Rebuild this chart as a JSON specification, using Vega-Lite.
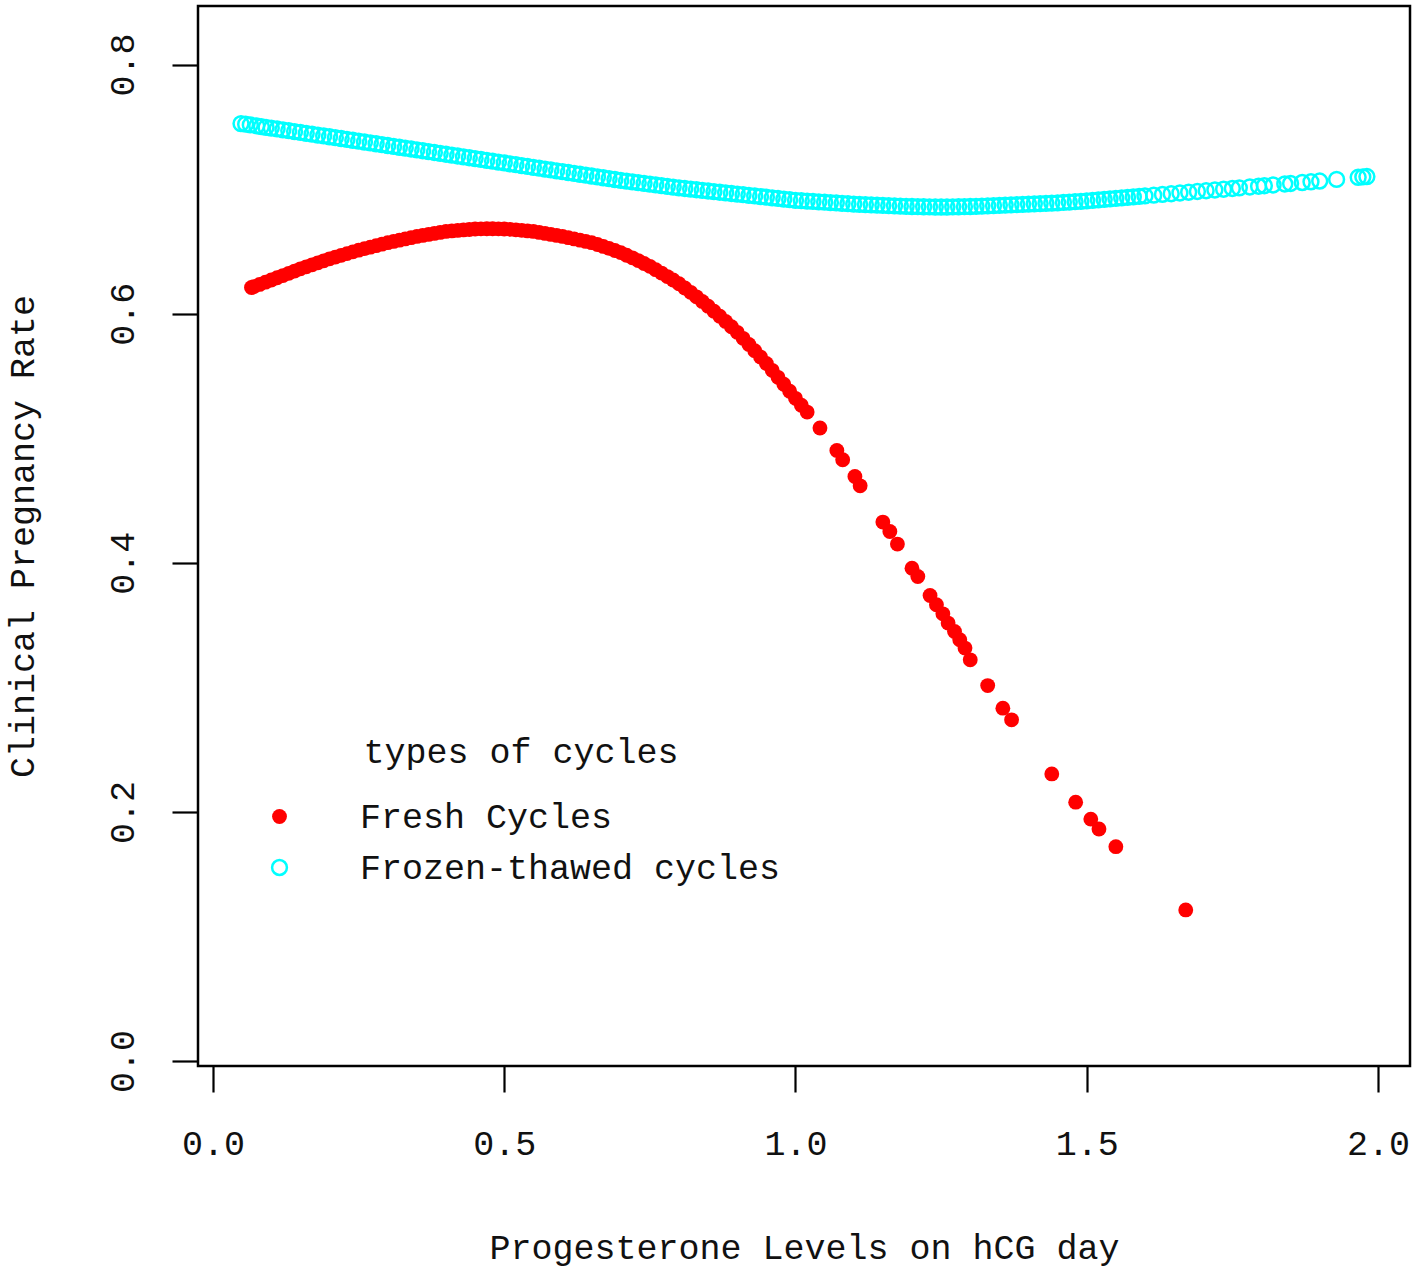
{
  "$schema": "https://vega.github.io/schema/vega-lite/v6.json",
  "background": "white",
  "autosize": {"type": "none"},
  "padding": {"left": 198, "top": 6, "right": 7, "bottom": 204},
  "width": 1212,
  "height": 1060,
  "data": {
    "values": [
      {"x": 0.066, "y": 0.6210, "cycle": "Fresh Cycles"},
      {"x": 0.07, "y": 0.6217, "cycle": "Fresh Cycles"},
      {"x": 0.08, "y": 0.6235, "cycle": "Fresh Cycles"},
      {"x": 0.09, "y": 0.6253, "cycle": "Fresh Cycles"},
      {"x": 0.10, "y": 0.6270, "cycle": "Fresh Cycles"},
      {"x": 0.11, "y": 0.6288, "cycle": "Fresh Cycles"},
      {"x": 0.12, "y": 0.6306, "cycle": "Fresh Cycles"},
      {"x": 0.13, "y": 0.6324, "cycle": "Fresh Cycles"},
      {"x": 0.14, "y": 0.6342, "cycle": "Fresh Cycles"},
      {"x": 0.15, "y": 0.6360, "cycle": "Fresh Cycles"},
      {"x": 0.16, "y": 0.6376, "cycle": "Fresh Cycles"},
      {"x": 0.17, "y": 0.6392, "cycle": "Fresh Cycles"},
      {"x": 0.18, "y": 0.6408, "cycle": "Fresh Cycles"},
      {"x": 0.19, "y": 0.6424, "cycle": "Fresh Cycles"},
      {"x": 0.20, "y": 0.6440, "cycle": "Fresh Cycles"},
      {"x": 0.21, "y": 0.6454, "cycle": "Fresh Cycles"},
      {"x": 0.22, "y": 0.6468, "cycle": "Fresh Cycles"},
      {"x": 0.23, "y": 0.6482, "cycle": "Fresh Cycles"},
      {"x": 0.24, "y": 0.6496, "cycle": "Fresh Cycles"},
      {"x": 0.25, "y": 0.6510, "cycle": "Fresh Cycles"},
      {"x": 0.26, "y": 0.6522, "cycle": "Fresh Cycles"},
      {"x": 0.27, "y": 0.6534, "cycle": "Fresh Cycles"},
      {"x": 0.28, "y": 0.6546, "cycle": "Fresh Cycles"},
      {"x": 0.29, "y": 0.6558, "cycle": "Fresh Cycles"},
      {"x": 0.30, "y": 0.6570, "cycle": "Fresh Cycles"},
      {"x": 0.31, "y": 0.6580, "cycle": "Fresh Cycles"},
      {"x": 0.32, "y": 0.6590, "cycle": "Fresh Cycles"},
      {"x": 0.33, "y": 0.6600, "cycle": "Fresh Cycles"},
      {"x": 0.34, "y": 0.6610, "cycle": "Fresh Cycles"},
      {"x": 0.35, "y": 0.6620, "cycle": "Fresh Cycles"},
      {"x": 0.36, "y": 0.6628, "cycle": "Fresh Cycles"},
      {"x": 0.37, "y": 0.6636, "cycle": "Fresh Cycles"},
      {"x": 0.38, "y": 0.6644, "cycle": "Fresh Cycles"},
      {"x": 0.39, "y": 0.6652, "cycle": "Fresh Cycles"},
      {"x": 0.40, "y": 0.6660, "cycle": "Fresh Cycles"},
      {"x": 0.41, "y": 0.6664, "cycle": "Fresh Cycles"},
      {"x": 0.42, "y": 0.6668, "cycle": "Fresh Cycles"},
      {"x": 0.43, "y": 0.6672, "cycle": "Fresh Cycles"},
      {"x": 0.44, "y": 0.6676, "cycle": "Fresh Cycles"},
      {"x": 0.45, "y": 0.6680, "cycle": "Fresh Cycles"},
      {"x": 0.46, "y": 0.6681, "cycle": "Fresh Cycles"},
      {"x": 0.47, "y": 0.6682, "cycle": "Fresh Cycles"},
      {"x": 0.48, "y": 0.6682, "cycle": "Fresh Cycles"},
      {"x": 0.49, "y": 0.6681, "cycle": "Fresh Cycles"},
      {"x": 0.50, "y": 0.6680, "cycle": "Fresh Cycles"},
      {"x": 0.51, "y": 0.6677, "cycle": "Fresh Cycles"},
      {"x": 0.52, "y": 0.6673, "cycle": "Fresh Cycles"},
      {"x": 0.53, "y": 0.6669, "cycle": "Fresh Cycles"},
      {"x": 0.54, "y": 0.6664, "cycle": "Fresh Cycles"},
      {"x": 0.55, "y": 0.6660, "cycle": "Fresh Cycles"},
      {"x": 0.56, "y": 0.6652, "cycle": "Fresh Cycles"},
      {"x": 0.57, "y": 0.6644, "cycle": "Fresh Cycles"},
      {"x": 0.58, "y": 0.6636, "cycle": "Fresh Cycles"},
      {"x": 0.59, "y": 0.6628, "cycle": "Fresh Cycles"},
      {"x": 0.60, "y": 0.6620, "cycle": "Fresh Cycles"},
      {"x": 0.61, "y": 0.6610, "cycle": "Fresh Cycles"},
      {"x": 0.62, "y": 0.6600, "cycle": "Fresh Cycles"},
      {"x": 0.63, "y": 0.6590, "cycle": "Fresh Cycles"},
      {"x": 0.64, "y": 0.6580, "cycle": "Fresh Cycles"},
      {"x": 0.65, "y": 0.6570, "cycle": "Fresh Cycles"},
      {"x": 0.66, "y": 0.6555, "cycle": "Fresh Cycles"},
      {"x": 0.67, "y": 0.6540, "cycle": "Fresh Cycles"},
      {"x": 0.68, "y": 0.6524, "cycle": "Fresh Cycles"},
      {"x": 0.69, "y": 0.6507, "cycle": "Fresh Cycles"},
      {"x": 0.70, "y": 0.6490, "cycle": "Fresh Cycles"},
      {"x": 0.71, "y": 0.6469, "cycle": "Fresh Cycles"},
      {"x": 0.72, "y": 0.6448, "cycle": "Fresh Cycles"},
      {"x": 0.73, "y": 0.6426, "cycle": "Fresh Cycles"},
      {"x": 0.74, "y": 0.6403, "cycle": "Fresh Cycles"},
      {"x": 0.75, "y": 0.6380, "cycle": "Fresh Cycles"},
      {"x": 0.76, "y": 0.6353, "cycle": "Fresh Cycles"},
      {"x": 0.77, "y": 0.6326, "cycle": "Fresh Cycles"},
      {"x": 0.78, "y": 0.6298, "cycle": "Fresh Cycles"},
      {"x": 0.79, "y": 0.6270, "cycle": "Fresh Cycles"},
      {"x": 0.80, "y": 0.6240, "cycle": "Fresh Cycles"},
      {"x": 0.81, "y": 0.6206, "cycle": "Fresh Cycles"},
      {"x": 0.82, "y": 0.6171, "cycle": "Fresh Cycles"},
      {"x": 0.83, "y": 0.6135, "cycle": "Fresh Cycles"},
      {"x": 0.84, "y": 0.6098, "cycle": "Fresh Cycles"},
      {"x": 0.85, "y": 0.6060, "cycle": "Fresh Cycles"},
      {"x": 0.86, "y": 0.6020, "cycle": "Fresh Cycles"},
      {"x": 0.87, "y": 0.5980, "cycle": "Fresh Cycles"},
      {"x": 0.88, "y": 0.5938, "cycle": "Fresh Cycles"},
      {"x": 0.89, "y": 0.5895, "cycle": "Fresh Cycles"},
      {"x": 0.90, "y": 0.5850, "cycle": "Fresh Cycles"},
      {"x": 0.91, "y": 0.5802, "cycle": "Fresh Cycles"},
      {"x": 0.92, "y": 0.5753, "cycle": "Fresh Cycles"},
      {"x": 0.93, "y": 0.5703, "cycle": "Fresh Cycles"},
      {"x": 0.94, "y": 0.5652, "cycle": "Fresh Cycles"},
      {"x": 0.95, "y": 0.5600, "cycle": "Fresh Cycles"},
      {"x": 0.96, "y": 0.5545, "cycle": "Fresh Cycles"},
      {"x": 0.97, "y": 0.5489, "cycle": "Fresh Cycles"},
      {"x": 0.98, "y": 0.5433, "cycle": "Fresh Cycles"},
      {"x": 0.99, "y": 0.5377, "cycle": "Fresh Cycles"},
      {"x": 1.00, "y": 0.5320, "cycle": "Fresh Cycles"},
      {"x": 1.01, "y": 0.5265, "cycle": "Fresh Cycles"},
      {"x": 1.02, "y": 0.5210, "cycle": "Fresh Cycles"},
      {"x": 1.042, "y": 0.5082, "cycle": "Fresh Cycles"},
      {"x": 1.071, "y": 0.4902, "cycle": "Fresh Cycles"},
      {"x": 1.081, "y": 0.4827, "cycle": "Fresh Cycles"},
      {"x": 1.102, "y": 0.4693, "cycle": "Fresh Cycles"},
      {"x": 1.111, "y": 0.4618, "cycle": "Fresh Cycles"},
      {"x": 1.150, "y": 0.4327, "cycle": "Fresh Cycles"},
      {"x": 1.162, "y": 0.4251, "cycle": "Fresh Cycles"},
      {"x": 1.175, "y": 0.4150, "cycle": "Fresh Cycles"},
      {"x": 1.200, "y": 0.3957, "cycle": "Fresh Cycles"},
      {"x": 1.210, "y": 0.3890, "cycle": "Fresh Cycles"},
      {"x": 1.231, "y": 0.3737, "cycle": "Fresh Cycles"},
      {"x": 1.242, "y": 0.3663, "cycle": "Fresh Cycles"},
      {"x": 1.253, "y": 0.3590, "cycle": "Fresh Cycles"},
      {"x": 1.262, "y": 0.3516, "cycle": "Fresh Cycles"},
      {"x": 1.273, "y": 0.3448, "cycle": "Fresh Cycles"},
      {"x": 1.282, "y": 0.3382, "cycle": "Fresh Cycles"},
      {"x": 1.291, "y": 0.3315, "cycle": "Fresh Cycles"},
      {"x": 1.300, "y": 0.3221, "cycle": "Fresh Cycles"},
      {"x": 1.330, "y": 0.3014, "cycle": "Fresh Cycles"},
      {"x": 1.356, "y": 0.2833, "cycle": "Fresh Cycles"},
      {"x": 1.371, "y": 0.2739, "cycle": "Fresh Cycles"},
      {"x": 1.440, "y": 0.2305, "cycle": "Fresh Cycles"},
      {"x": 1.481, "y": 0.2078, "cycle": "Fresh Cycles"},
      {"x": 1.507, "y": 0.1942, "cycle": "Fresh Cycles"},
      {"x": 1.521, "y": 0.1863, "cycle": "Fresh Cycles"},
      {"x": 1.550, "y": 0.1721, "cycle": "Fresh Cycles"},
      {"x": 1.670, "y": 0.1213, "cycle": "Fresh Cycles"},
      {"x": 0.048, "y": 0.7526, "cycle": "Frozen-thawed cycles"},
      {"x": 0.056, "y": 0.7521, "cycle": "Frozen-thawed cycles"},
      {"x": 0.064, "y": 0.7515, "cycle": "Frozen-thawed cycles"},
      {"x": 0.075, "y": 0.7508, "cycle": "Frozen-thawed cycles"},
      {"x": 0.083, "y": 0.7502, "cycle": "Frozen-thawed cycles"},
      {"x": 0.091, "y": 0.7496, "cycle": "Frozen-thawed cycles"},
      {"x": 0.10, "y": 0.7490, "cycle": "Frozen-thawed cycles"},
      {"x": 0.11, "y": 0.7483, "cycle": "Frozen-thawed cycles"},
      {"x": 0.12, "y": 0.7476, "cycle": "Frozen-thawed cycles"},
      {"x": 0.13, "y": 0.7469, "cycle": "Frozen-thawed cycles"},
      {"x": 0.14, "y": 0.7462, "cycle": "Frozen-thawed cycles"},
      {"x": 0.15, "y": 0.7455, "cycle": "Frozen-thawed cycles"},
      {"x": 0.16, "y": 0.7448, "cycle": "Frozen-thawed cycles"},
      {"x": 0.17, "y": 0.7441, "cycle": "Frozen-thawed cycles"},
      {"x": 0.18, "y": 0.7434, "cycle": "Frozen-thawed cycles"},
      {"x": 0.19, "y": 0.7427, "cycle": "Frozen-thawed cycles"},
      {"x": 0.20, "y": 0.7420, "cycle": "Frozen-thawed cycles"},
      {"x": 0.21, "y": 0.7413, "cycle": "Frozen-thawed cycles"},
      {"x": 0.22, "y": 0.7406, "cycle": "Frozen-thawed cycles"},
      {"x": 0.23, "y": 0.7399, "cycle": "Frozen-thawed cycles"},
      {"x": 0.24, "y": 0.7392, "cycle": "Frozen-thawed cycles"},
      {"x": 0.25, "y": 0.7385, "cycle": "Frozen-thawed cycles"},
      {"x": 0.26, "y": 0.7378, "cycle": "Frozen-thawed cycles"},
      {"x": 0.27, "y": 0.7371, "cycle": "Frozen-thawed cycles"},
      {"x": 0.28, "y": 0.7364, "cycle": "Frozen-thawed cycles"},
      {"x": 0.29, "y": 0.7357, "cycle": "Frozen-thawed cycles"},
      {"x": 0.30, "y": 0.7350, "cycle": "Frozen-thawed cycles"},
      {"x": 0.31, "y": 0.7343, "cycle": "Frozen-thawed cycles"},
      {"x": 0.32, "y": 0.7336, "cycle": "Frozen-thawed cycles"},
      {"x": 0.33, "y": 0.7329, "cycle": "Frozen-thawed cycles"},
      {"x": 0.34, "y": 0.7322, "cycle": "Frozen-thawed cycles"},
      {"x": 0.35, "y": 0.7315, "cycle": "Frozen-thawed cycles"},
      {"x": 0.36, "y": 0.7308, "cycle": "Frozen-thawed cycles"},
      {"x": 0.37, "y": 0.7301, "cycle": "Frozen-thawed cycles"},
      {"x": 0.38, "y": 0.7294, "cycle": "Frozen-thawed cycles"},
      {"x": 0.39, "y": 0.7287, "cycle": "Frozen-thawed cycles"},
      {"x": 0.40, "y": 0.7280, "cycle": "Frozen-thawed cycles"},
      {"x": 0.41, "y": 0.7273, "cycle": "Frozen-thawed cycles"},
      {"x": 0.42, "y": 0.7266, "cycle": "Frozen-thawed cycles"},
      {"x": 0.43, "y": 0.7259, "cycle": "Frozen-thawed cycles"},
      {"x": 0.44, "y": 0.7252, "cycle": "Frozen-thawed cycles"},
      {"x": 0.45, "y": 0.7245, "cycle": "Frozen-thawed cycles"},
      {"x": 0.46, "y": 0.7238, "cycle": "Frozen-thawed cycles"},
      {"x": 0.47, "y": 0.7231, "cycle": "Frozen-thawed cycles"},
      {"x": 0.48, "y": 0.7224, "cycle": "Frozen-thawed cycles"},
      {"x": 0.49, "y": 0.7217, "cycle": "Frozen-thawed cycles"},
      {"x": 0.50, "y": 0.7210, "cycle": "Frozen-thawed cycles"},
      {"x": 0.51, "y": 0.7203, "cycle": "Frozen-thawed cycles"},
      {"x": 0.52, "y": 0.7196, "cycle": "Frozen-thawed cycles"},
      {"x": 0.53, "y": 0.7189, "cycle": "Frozen-thawed cycles"},
      {"x": 0.54, "y": 0.7182, "cycle": "Frozen-thawed cycles"},
      {"x": 0.55, "y": 0.7175, "cycle": "Frozen-thawed cycles"},
      {"x": 0.56, "y": 0.7168, "cycle": "Frozen-thawed cycles"},
      {"x": 0.57, "y": 0.7161, "cycle": "Frozen-thawed cycles"},
      {"x": 0.58, "y": 0.7154, "cycle": "Frozen-thawed cycles"},
      {"x": 0.59, "y": 0.7147, "cycle": "Frozen-thawed cycles"},
      {"x": 0.60, "y": 0.7140, "cycle": "Frozen-thawed cycles"},
      {"x": 0.61, "y": 0.7133, "cycle": "Frozen-thawed cycles"},
      {"x": 0.62, "y": 0.7126, "cycle": "Frozen-thawed cycles"},
      {"x": 0.63, "y": 0.7119, "cycle": "Frozen-thawed cycles"},
      {"x": 0.64, "y": 0.7112, "cycle": "Frozen-thawed cycles"},
      {"x": 0.65, "y": 0.7105, "cycle": "Frozen-thawed cycles"},
      {"x": 0.66, "y": 0.7098, "cycle": "Frozen-thawed cycles"},
      {"x": 0.67, "y": 0.7091, "cycle": "Frozen-thawed cycles"},
      {"x": 0.68, "y": 0.7084, "cycle": "Frozen-thawed cycles"},
      {"x": 0.69, "y": 0.7077, "cycle": "Frozen-thawed cycles"},
      {"x": 0.70, "y": 0.7070, "cycle": "Frozen-thawed cycles"},
      {"x": 0.71, "y": 0.7064, "cycle": "Frozen-thawed cycles"},
      {"x": 0.72, "y": 0.7058, "cycle": "Frozen-thawed cycles"},
      {"x": 0.73, "y": 0.7052, "cycle": "Frozen-thawed cycles"},
      {"x": 0.74, "y": 0.7046, "cycle": "Frozen-thawed cycles"},
      {"x": 0.75, "y": 0.7040, "cycle": "Frozen-thawed cycles"},
      {"x": 0.76, "y": 0.7034, "cycle": "Frozen-thawed cycles"},
      {"x": 0.77, "y": 0.7028, "cycle": "Frozen-thawed cycles"},
      {"x": 0.78, "y": 0.7022, "cycle": "Frozen-thawed cycles"},
      {"x": 0.79, "y": 0.7016, "cycle": "Frozen-thawed cycles"},
      {"x": 0.80, "y": 0.7010, "cycle": "Frozen-thawed cycles"},
      {"x": 0.81, "y": 0.7005, "cycle": "Frozen-thawed cycles"},
      {"x": 0.82, "y": 0.7000, "cycle": "Frozen-thawed cycles"},
      {"x": 0.83, "y": 0.6995, "cycle": "Frozen-thawed cycles"},
      {"x": 0.84, "y": 0.6990, "cycle": "Frozen-thawed cycles"},
      {"x": 0.85, "y": 0.6985, "cycle": "Frozen-thawed cycles"},
      {"x": 0.86, "y": 0.6980, "cycle": "Frozen-thawed cycles"},
      {"x": 0.87, "y": 0.6975, "cycle": "Frozen-thawed cycles"},
      {"x": 0.88, "y": 0.6970, "cycle": "Frozen-thawed cycles"},
      {"x": 0.89, "y": 0.6965, "cycle": "Frozen-thawed cycles"},
      {"x": 0.90, "y": 0.6960, "cycle": "Frozen-thawed cycles"},
      {"x": 0.91, "y": 0.6955, "cycle": "Frozen-thawed cycles"},
      {"x": 0.92, "y": 0.6950, "cycle": "Frozen-thawed cycles"},
      {"x": 0.93, "y": 0.6945, "cycle": "Frozen-thawed cycles"},
      {"x": 0.94, "y": 0.6940, "cycle": "Frozen-thawed cycles"},
      {"x": 0.95, "y": 0.6935, "cycle": "Frozen-thawed cycles"},
      {"x": 0.96, "y": 0.6930, "cycle": "Frozen-thawed cycles"},
      {"x": 0.97, "y": 0.6925, "cycle": "Frozen-thawed cycles"},
      {"x": 0.98, "y": 0.6920, "cycle": "Frozen-thawed cycles"},
      {"x": 0.99, "y": 0.6915, "cycle": "Frozen-thawed cycles"},
      {"x": 1.00, "y": 0.6910, "cycle": "Frozen-thawed cycles"},
      {"x": 1.01, "y": 0.6907, "cycle": "Frozen-thawed cycles"},
      {"x": 1.02, "y": 0.6904, "cycle": "Frozen-thawed cycles"},
      {"x": 1.03, "y": 0.6901, "cycle": "Frozen-thawed cycles"},
      {"x": 1.04, "y": 0.6898, "cycle": "Frozen-thawed cycles"},
      {"x": 1.05, "y": 0.6895, "cycle": "Frozen-thawed cycles"},
      {"x": 1.06, "y": 0.6892, "cycle": "Frozen-thawed cycles"},
      {"x": 1.07, "y": 0.6889, "cycle": "Frozen-thawed cycles"},
      {"x": 1.08, "y": 0.6886, "cycle": "Frozen-thawed cycles"},
      {"x": 1.09, "y": 0.6883, "cycle": "Frozen-thawed cycles"},
      {"x": 1.10, "y": 0.6880, "cycle": "Frozen-thawed cycles"},
      {"x": 1.11, "y": 0.6878, "cycle": "Frozen-thawed cycles"},
      {"x": 1.12, "y": 0.6876, "cycle": "Frozen-thawed cycles"},
      {"x": 1.13, "y": 0.6874, "cycle": "Frozen-thawed cycles"},
      {"x": 1.14, "y": 0.6872, "cycle": "Frozen-thawed cycles"},
      {"x": 1.15, "y": 0.6870, "cycle": "Frozen-thawed cycles"},
      {"x": 1.16, "y": 0.6868, "cycle": "Frozen-thawed cycles"},
      {"x": 1.17, "y": 0.6866, "cycle": "Frozen-thawed cycles"},
      {"x": 1.18, "y": 0.6864, "cycle": "Frozen-thawed cycles"},
      {"x": 1.19, "y": 0.6862, "cycle": "Frozen-thawed cycles"},
      {"x": 1.20, "y": 0.6860, "cycle": "Frozen-thawed cycles"},
      {"x": 1.21, "y": 0.6859, "cycle": "Frozen-thawed cycles"},
      {"x": 1.22, "y": 0.6858, "cycle": "Frozen-thawed cycles"},
      {"x": 1.23, "y": 0.6857, "cycle": "Frozen-thawed cycles"},
      {"x": 1.24, "y": 0.6856, "cycle": "Frozen-thawed cycles"},
      {"x": 1.25, "y": 0.6856, "cycle": "Frozen-thawed cycles"},
      {"x": 1.26, "y": 0.6856, "cycle": "Frozen-thawed cycles"},
      {"x": 1.27, "y": 0.6857, "cycle": "Frozen-thawed cycles"},
      {"x": 1.28, "y": 0.6858, "cycle": "Frozen-thawed cycles"},
      {"x": 1.29, "y": 0.6859, "cycle": "Frozen-thawed cycles"},
      {"x": 1.30, "y": 0.6860, "cycle": "Frozen-thawed cycles"},
      {"x": 1.31, "y": 0.6862, "cycle": "Frozen-thawed cycles"},
      {"x": 1.32, "y": 0.6864, "cycle": "Frozen-thawed cycles"},
      {"x": 1.33, "y": 0.6866, "cycle": "Frozen-thawed cycles"},
      {"x": 1.34, "y": 0.6868, "cycle": "Frozen-thawed cycles"},
      {"x": 1.35, "y": 0.6870, "cycle": "Frozen-thawed cycles"},
      {"x": 1.36, "y": 0.6872, "cycle": "Frozen-thawed cycles"},
      {"x": 1.37, "y": 0.6874, "cycle": "Frozen-thawed cycles"},
      {"x": 1.38, "y": 0.6876, "cycle": "Frozen-thawed cycles"},
      {"x": 1.39, "y": 0.6878, "cycle": "Frozen-thawed cycles"},
      {"x": 1.40, "y": 0.6880, "cycle": "Frozen-thawed cycles"},
      {"x": 1.41, "y": 0.6882, "cycle": "Frozen-thawed cycles"},
      {"x": 1.42, "y": 0.6884, "cycle": "Frozen-thawed cycles"},
      {"x": 1.43, "y": 0.6886, "cycle": "Frozen-thawed cycles"},
      {"x": 1.44, "y": 0.6888, "cycle": "Frozen-thawed cycles"},
      {"x": 1.45, "y": 0.6890, "cycle": "Frozen-thawed cycles"},
      {"x": 1.46, "y": 0.6893, "cycle": "Frozen-thawed cycles"},
      {"x": 1.47, "y": 0.6896, "cycle": "Frozen-thawed cycles"},
      {"x": 1.48, "y": 0.6899, "cycle": "Frozen-thawed cycles"},
      {"x": 1.49, "y": 0.6902, "cycle": "Frozen-thawed cycles"},
      {"x": 1.50, "y": 0.6905, "cycle": "Frozen-thawed cycles"},
      {"x": 1.51, "y": 0.6909, "cycle": "Frozen-thawed cycles"},
      {"x": 1.52, "y": 0.6913, "cycle": "Frozen-thawed cycles"},
      {"x": 1.53, "y": 0.6917, "cycle": "Frozen-thawed cycles"},
      {"x": 1.54, "y": 0.6921, "cycle": "Frozen-thawed cycles"},
      {"x": 1.55, "y": 0.6925, "cycle": "Frozen-thawed cycles"},
      {"x": 1.56, "y": 0.6929, "cycle": "Frozen-thawed cycles"},
      {"x": 1.57, "y": 0.6933, "cycle": "Frozen-thawed cycles"},
      {"x": 1.58, "y": 0.6937, "cycle": "Frozen-thawed cycles"},
      {"x": 1.59, "y": 0.6941, "cycle": "Frozen-thawed cycles"},
      {"x": 1.60, "y": 0.6945, "cycle": "Frozen-thawed cycles"},
      {"x": 1.615, "y": 0.6951, "cycle": "Frozen-thawed cycles"},
      {"x": 1.63, "y": 0.6957, "cycle": "Frozen-thawed cycles"},
      {"x": 1.645, "y": 0.6963, "cycle": "Frozen-thawed cycles"},
      {"x": 1.66, "y": 0.6969, "cycle": "Frozen-thawed cycles"},
      {"x": 1.675, "y": 0.6975, "cycle": "Frozen-thawed cycles"},
      {"x": 1.69, "y": 0.6981, "cycle": "Frozen-thawed cycles"},
      {"x": 1.705, "y": 0.6987, "cycle": "Frozen-thawed cycles"},
      {"x": 1.72, "y": 0.6993, "cycle": "Frozen-thawed cycles"},
      {"x": 1.735, "y": 0.6999, "cycle": "Frozen-thawed cycles"},
      {"x": 1.75, "y": 0.7005, "cycle": "Frozen-thawed cycles"},
      {"x": 1.762, "y": 0.7010, "cycle": "Frozen-thawed cycles"},
      {"x": 1.78, "y": 0.7017, "cycle": "Frozen-thawed cycles"},
      {"x": 1.795, "y": 0.7023, "cycle": "Frozen-thawed cycles"},
      {"x": 1.805, "y": 0.7027, "cycle": "Frozen-thawed cycles"},
      {"x": 1.82, "y": 0.7033, "cycle": "Frozen-thawed cycles"},
      {"x": 1.84, "y": 0.7041, "cycle": "Frozen-thawed cycles"},
      {"x": 1.85, "y": 0.7045, "cycle": "Frozen-thawed cycles"},
      {"x": 1.87, "y": 0.7053, "cycle": "Frozen-thawed cycles"},
      {"x": 1.885, "y": 0.7059, "cycle": "Frozen-thawed cycles"},
      {"x": 1.90, "y": 0.7065, "cycle": "Frozen-thawed cycles"},
      {"x": 1.929, "y": 0.7078, "cycle": "Frozen-thawed cycles"},
      {"x": 1.966, "y": 0.7095, "cycle": "Frozen-thawed cycles"},
      {"x": 1.974, "y": 0.7098, "cycle": "Frozen-thawed cycles"},
      {"x": 1.981, "y": 0.7101, "cycle": "Frozen-thawed cycles"}
    ]
  },
  "mark": {"type": "point", "shape": "circle", "size": 220, "strokeWidth": 2.5, "opacity": 1},
  "encoding": {
    "x": {
      "field": "x",
      "type": "quantitative",
      "title": "Progesterone Levels on hCG day",
      "scale": {"domain": [-0.0258, 2.055], "nice": false, "zero": false},
      "axis": {
        "values": [0, 0.5, 1, 1.5, 2],
        "format": ".1f",
        "labelBaseline": "middle",
        "labelPadding": 51,
        "titleBaseline": "middle",
        "titleY": 181
      }
    },
    "y": {
      "field": "y",
      "type": "quantitative",
      "title": "Clinical Pregnancy Rate",
      "scale": {"domain": [-0.004, 0.847], "nice": false, "zero": false},
      "axis": {
        "values": [0, 0.2, 0.4, 0.6, 0.8],
        "format": ".1f",
        "labelAngle": 270,
        "labelAlign": "center",
        "labelBaseline": "middle",
        "labelPadding": 50,
        "titleAngle": 270,
        "titleBaseline": "middle",
        "titleX": -176
      }
    },
    "fill": {
      "field": "cycle",
      "type": "nominal",
      "scale": {"domain": ["Fresh Cycles", "Frozen-thawed cycles"], "range": ["#FF0000", "transparent"]},
      "legend": {
        "title": "types of cycles",
        "orient": "none",
        "legendX": 64,
        "legendY": 729,
        "padding": 0,
        "titleAnchor": "middle",
        "titlePadding": 29,
        "labelOffset": 63,
        "rowPadding": 15,
        "symbolType": "circle",
        "symbolSize": 220,
        "symbolStrokeWidth": 2.5
      }
    },
    "stroke": {
      "field": "cycle",
      "type": "nominal",
      "scale": {"domain": ["Fresh Cycles", "Frozen-thawed cycles"], "range": ["transparent", "#00FFFF"]},
      "legend": {
        "title": "types of cycles",
        "orient": "none",
        "legendX": 64,
        "legendY": 729,
        "padding": 0,
        "titleAnchor": "middle",
        "titlePadding": 29,
        "labelOffset": 63,
        "rowPadding": 15,
        "symbolType": "circle",
        "symbolSize": 220,
        "symbolStrokeWidth": 2.5
      }
    }
  },
  "config": {
    "view": {"stroke": "#000000", "strokeWidth": 2.5},
    "axis": {
      "domain": false,
      "grid": false,
      "ticks": true,
      "tickColor": "#000000",
      "tickSize": 26,
      "tickWidth": 2.2,
      "labelFont": "Liberation Mono",
      "labelFontSize": 35,
      "labelColor": "#111111",
      "titleFont": "Liberation Mono",
      "titleFontSize": 35,
      "titleFontWeight": "normal",
      "titleColor": "#111111"
    },
    "legend": {
      "labelFont": "Liberation Mono",
      "labelFontSize": 35,
      "labelColor": "#111111",
      "titleFont": "Liberation Mono",
      "titleFontSize": 35,
      "titleFontWeight": "normal",
      "titleColor": "#111111",
      "titleLimit": 1000,
      "labelLimit": 1000
    }
  }
}
